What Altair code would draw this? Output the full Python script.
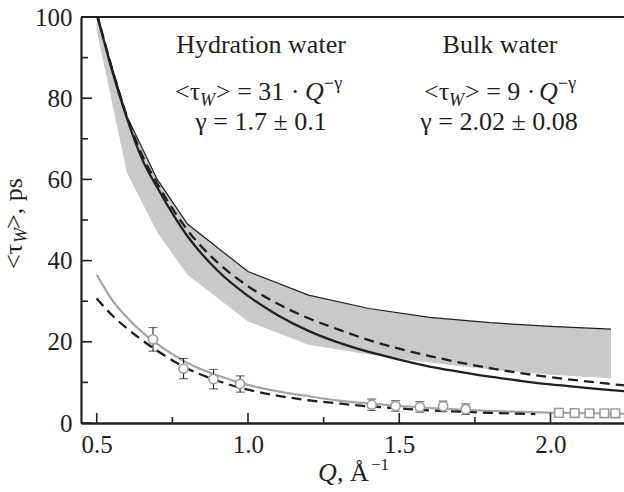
import altair as alt
import pandas as pd

FONT = "Liberation Serif"
INK = "#231f20"

# ---------------- data ----------------
q_band = [0.5, 0.6, 0.7, 0.8, 1.0, 1.2, 1.4, 1.6, 1.8, 2.0, 2.2]
band_hi = [100, 75.5, 60, 49, 37.3, 31.5, 28.2, 26.0, 24.7, 23.8, 23.1]
band_lo = [96.7, 61.6, 47, 36.5, 25, 19.3, 16.9, 14.9, 13.2, 11.9, 11.0]

q_curve = [0.5, 0.55, 0.6, 0.65, 0.7, 0.8, 0.9, 1.0, 1.1, 1.2, 1.3, 1.4,
           1.5, 1.6, 1.7, 1.8, 1.9, 2.0, 2.1, 2.2, 2.25]
hyd_solid = [101, 87, 75, 65, 58, 46, 37.5, 31.3, 26.5, 22.7, 19.8, 17.5,
             15.6, 13.9, 12.6, 11.4, 10.4, 9.5, 8.8, 8.1, 7.8]
hyd_dashed = [101, 87.5, 75.5, 66, 59, 47.5, 39.5, 33.7, 29.3, 25.8, 23.0, 20.4,
              18.3, 16.5, 14.9, 13.5, 12.3, 11.3, 10.4, 9.6, 9.2]
bulk_fit = [36.5, 30.4, 26.0, 22.4, 19.5, 14.8, 11.7, 9.4, 7.8, 6.6, 5.5, 4.8,
            4.2, 3.7, 3.3, 3.0, 2.75, 2.55, 2.45, 2.35, 2.3]

q_bulk_dash = [0.5, 0.55, 0.6, 0.65, 0.7, 0.8, 0.9, 1.0, 1.1, 1.2, 1.3, 1.4,
               1.5, 1.6, 1.7, 1.8, 1.95]
bulk_dashed = [30.7, 26.6, 23.3, 20.4, 17.8, 13.4, 10.4, 8.2, 6.7, 5.6, 4.8, 4.1,
               3.6, 3.1, 2.8, 2.5, 2.2]

q_circ = [0.686, 0.787, 0.886, 0.974, 1.409, 1.488, 1.568, 1.645, 1.72]
tau_circ = [20.6, 13.4, 10.8, 9.6, 4.5, 4.2, 3.95, 4.1, 3.4]
err_circ = [2.9, 2.5, 2.4, 2.0, 1.4, 1.3, 1.3, 1.3, 1.3]

q_sq = [2.028, 2.08, 2.129, 2.178, 2.214]
tau_sq = [2.5, 2.45, 2.4, 2.4, 2.4]

xtick_major = [0.5, 1.0, 1.5, 2.0]
xtick_minor = [0.75, 1.25, 1.75]
ytick_major = [0, 20, 40, 60, 80, 100]
ytick_minor = [10, 30, 50, 70, 90]

# ---------------- scales / axes ----------------
W, H = 543, 406
xs = alt.Scale(domain=[0.448, 2.243], nice=False, zero=False)
ys = alt.Scale(domain=[0, 100], nice=False, zero=True)
x_ax = alt.Axis(values=xtick_major, format=".1f", ticks=False, grid=False,
                domainColor=INK, domainWidth=2.4, labelFont=FONT,
                labelFontSize=25, labelColor=INK, labelPadding=9, title=None)
y_ax = alt.Axis(values=ytick_major, format="d", ticks=False, grid=False,
                domainColor=INK, domainWidth=2.2, labelFont=FONT,
                labelFontSize=25, labelColor=INK, labelPadding=9, title=None)

band_df = pd.DataFrame({"q": q_band, "hi": band_hi, "lo": band_lo})
curve_df = pd.DataFrame({"q": q_curve, "solid": hyd_solid, "dashed": hyd_dashed, "fit": bulk_fit})
bd_df = pd.DataFrame({"q": q_bulk_dash, "v": bulk_dashed})
circ_df = pd.DataFrame({"q": q_circ, "v": tau_circ, "e": err_circ})
circ_df["lo"] = circ_df["v"] - circ_df["e"]
circ_df["hi"] = circ_df["v"] + circ_df["e"]
sq_df = pd.DataFrame({"q": q_sq, "v": tau_sq})


def X(f):
    return alt.X(f, type="quantitative", scale=xs, axis=x_ax)


def Y(f):
    return alt.Y(f, type="quantitative", scale=ys, axis=y_ax)


band = alt.Chart(band_df).mark_area(color="#c8c9cb", clip=True, interpolate="linear").encode(
    x=X("q"), y=Y("lo"), y2="hi")
band_top = alt.Chart(band_df).mark_line(color=INK, strokeWidth=1.2, clip=True).encode(
    x=X("q"), y=Y("hi"))

solid = alt.Chart(curve_df).mark_line(color=INK, strokeWidth=2.3, clip=True, interpolate="monotone").encode(
    x=X("q"), y=Y("solid"))
dashed = alt.Chart(curve_df).mark_line(color=INK, strokeWidth=2.3, strokeDash=[10, 6], clip=True,
                                       interpolate="monotone").encode(x=X("q"), y=Y("dashed"))
fit = alt.Chart(curve_df).mark_line(color="#a5a5a5", strokeWidth=2.2, clip=True, interpolate="monotone").encode(
    x=X("q"), y=Y("fit"))
bdash = alt.Chart(bd_df).mark_line(color=INK, strokeWidth=2.3, strokeDash=[10, 6], clip=True,
                                   interpolate="monotone").encode(x=X("q"), y=Y("v"))

ebar = alt.Chart(circ_df).mark_rule(color=INK, strokeWidth=1.1).encode(
    x=X("q"), y=Y("lo"), y2="hi")
ecap_hi = alt.Chart(circ_df).mark_tick(color=INK, thickness=1.1, size=9, orient="horizontal").encode(
    x=X("q"), y=Y("hi"))
ecap_lo = alt.Chart(circ_df).mark_tick(color=INK, thickness=1.1, size=9, orient="horizontal").encode(
    x=X("q"), y=Y("lo"))
circles = alt.Chart(circ_df).mark_point(shape="circle", size=85, filled=False, fill="white", fillOpacity=1,
                                        stroke="#9c9c9c", strokeWidth=1.6, opacity=1).encode(
    x=X("q"), y=Y("v"))
squares = alt.Chart(sq_df).mark_point(shape="square", size=75, filled=False, fill="white", fillOpacity=1,
                                      stroke="#9c9c9c", strokeWidth=1.6, opacity=1).encode(
    x=X("q"), y=Y("v"))

xt_major = alt.Chart(pd.DataFrame({"q": xtick_major})).mark_rule(color=INK, strokeWidth=1.6).encode(
    x=X("q"), y=alt.value(H), y2=alt.value(H - 10))
xt_minor = alt.Chart(pd.DataFrame({"q": xtick_minor})).mark_rule(color=INK, strokeWidth=1.6).encode(
    x=X("q"), y=alt.value(H), y2=alt.value(H - 6))
yt_major = alt.Chart(pd.DataFrame({"v": ytick_major})).mark_rule(color=INK, strokeWidth=1.6).encode(
    y=Y("v"), x=alt.value(0), x2=alt.value(11))
yt_minor = alt.Chart(pd.DataFrame({"v": ytick_minor})).mark_rule(color=INK, strokeWidth=1.6).encode(
    y=Y("v"), x=alt.value(0), x2=alt.value(7))
top_border = alt.Chart(pd.DataFrame({"a": [0]})).mark_rule(color=INK, strokeWidth=2.2).encode(
    x=alt.value(0), x2=alt.value(W), y=alt.value(0))


def txt(s, x, y, size=26, style="normal", align="left", angle=0):
    return alt.Chart(alt.Data(values=[{}])).mark_text(
        text=s, font=FONT, fontSize=size, fontStyle=style, align=align, baseline="alphabetic",
        angle=angle, color=INK).encode(x=alt.value(x), y=alt.value(y))


texts = [
    txt("Hydration water", 180, 36, align="center"),
    txt("Bulk water", 419, 36, align="center"),
    # hydration formula
    txt("<τ", 94, 83),
    txt("W", 119, 89, size=18, style="italic"),
    txt("> = 31 · ", 135, 83),
    txt("Q", 224, 83, style="italic"),
    txt("−γ", 243, 72, size=18),
    txt("γ = 1.7 ± 0.1", 180, 113, align="center"),
    # bulk formula
    txt("<τ", 343, 83),
    txt("W", 368, 89, size=18, style="italic"),
    txt("> = 9 · ", 384, 83),
    txt("Q", 458, 83, style="italic"),
    txt("−γ", 477, 72, size=18),
    txt("γ = 2.02 ± 0.08", 418, 113, align="center"),
    # x title
    txt("Q", 237, 464, size=26, style="italic"),
    txt(", Å", 256, 464, size=26),
    txt("−1", 290, 453, size=17),
    # y title (rotated)
    txt("<τ", -59, 252, size=26, angle=270),
    txt("W", -54, 226, size=18, style="italic", angle=270),
    txt(">, ps", -59, 212, size=26, angle=270),
]

chart = alt.layer(
    band, band_top, fit, bdash, solid, dashed,
    ebar, ecap_hi, ecap_lo, circles, squares,
    xt_major, xt_minor, yt_major, yt_minor, top_border,
    *texts
).properties(
    width=W, height=H,
    padding={"left": 81, "top": 17, "right": 0, "bottom": 69},
    autosize=alt.AutoSizeParams(type="none"),
    background="white",
).configure_view(stroke=None)

chart.save("out.html", embed_options={"renderer": "svg", "actions": False})
